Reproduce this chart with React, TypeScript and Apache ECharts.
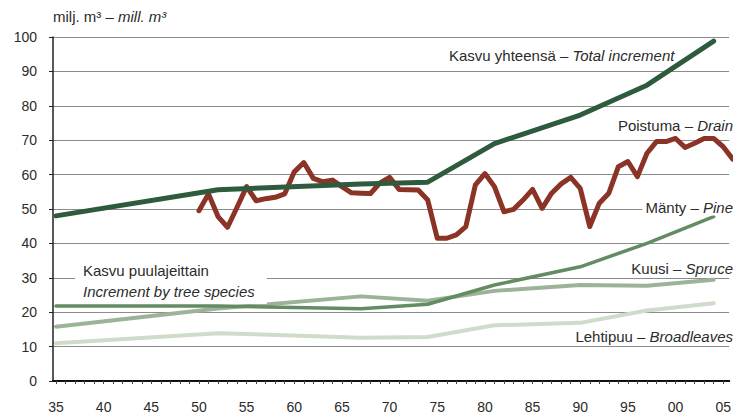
import React, { useEffect, useRef } from "react";
import * as echarts from "echarts";

// ---- data ----
const xTickLabels = [1935, 1940, 1945, 1950, 1955, 1960, 1965, 1970, 1975, 1980, 1985, 1990, 1995, 2000, 2005];
const yTicks = [0, 10, 20, 30, 40, 50, 60, 70, 80, 90, 100];

const drainYears = [
  1950, 1951, 1952, 1953, 1954, 1955, 1956, 1957, 1958, 1959,
  1960, 1961, 1962, 1963, 1964, 1965, 1966, 1967, 1968, 1969,
  1970, 1971, 1972, 1973, 1974, 1975, 1976, 1977, 1978, 1979,
  1980, 1981, 1982, 1983, 1984, 1985, 1986, 1987, 1988, 1989,
  1990, 1991, 1992, 1993, 1994, 1995, 1996, 1997, 1998, 1999,
  2000, 2001, 2002, 2003, 2004, 2005, 2006,
];
const drainValues = [
  49.5, 54.4, 47.8, 44.7, 50.5, 56.5, 52.4, 53.0, 53.4, 54.4,
  60.8, 63.5, 58.9, 57.9, 58.4, 56.5, 54.7, 54.6, 54.5, 57.6,
  59.2, 55.7, 55.6, 55.5, 52.6, 41.5, 41.5, 42.5, 44.9, 57.0,
  60.3, 56.5, 49.2, 49.9, 52.6, 55.7, 50.2, 54.6, 57.3, 59.2,
  56.0, 44.9, 51.7, 54.6, 62.3, 63.8, 59.4, 66.2, 69.6, 69.6,
  70.5, 67.9, 69.1, 70.5, 70.5, 68.1, 64.5,
];

const inventoryYears = [1935, 1952, 1967, 1974, 1981, 1990, 1997, 2004];
const totalIncrement = [48.0, 55.6, 57.3, 57.8, 69.0, 77.3, 86.0, 98.8];
const pineIncrement = [21.8, 21.8, 21.0, 22.3, 27.9, 33.2, 40.0, 47.8];
const spruceIncrement = [15.8, 21.1, 24.6, 23.3, 26.2, 27.9, 27.7, 29.4];
const broadleafIncrement = [11.0, 13.9, 12.6, 12.8, 16.2, 16.9, 20.5, 22.6];

const minorTickYears: number[] = [];
for (let y = 1935; y <= 2005; y++) minorTickYears.push(y);

const pair = (xs: number[], ys: number[]) => xs.map((x, i) => [x, ys[i]]);

const FONT = "'Liberation Sans', Arial, Helvetica, sans-serif";
const NARROW = "'Liberation Sans Narrow', 'Liberation Sans', Arial, sans-serif";
const TXT = "#2b2b2b";
const FS = 15;

const rich = {
  n: { fontSize: FS, fontFamily: FONT, fill: TXT },
  i: { fontSize: FS, fontFamily: FONT, fill: TXT, fontStyle: "italic" },
};

export default function App() {
  const ref = useRef<HTMLDivElement>(null);
  useEffect(() => {
    if (!ref.current) return;
    const chart = echarts.init(ref.current, null, { renderer: "svg" });
    const lineSeries = (name: string, data: number[][], color: string, width: number, z: number) => ({
      name,
      type: "line",
      data,
      showSymbol: false,
      symbol: "none",
      z,
      lineStyle: { color, width, cap: "round", join: "round" },
    });
    chart.setOption({
      animation: false,
      backgroundColor: "#ffffff",
      grid: { left: 53, right: 0, top: 37, bottom: 37, containLabel: false },
      xAxis: [
        {
          type: "value",
          min: 1934.6875,
          max: 2005.625,
          axisLine: { show: true, onZero: false, lineStyle: { color: "#111", width: 2 } },
          axisTick: { show: true, customValues: minorTickYears, length: 3, lineStyle: { color: "#444", width: 1 } },
          axisLabel: {
            show: true,
            customValues: xTickLabels,
            formatter: (v: number) => String(v % 100).padStart(2, "0"),
            margin: 19,
            fontSize: 14,
            fontFamily: NARROW,
            color: TXT,
          },
          splitLine: { show: false },
        },
        {
          type: "value",
          position: "top",
          min: 1934.6875,
          max: 2005.625,
          axisLine: { show: true, lineStyle: { color: "#111", width: 2 } },
          axisTick: { show: false },
          axisLabel: { show: false },
          splitLine: { show: false },
        },
      ],
      yAxis: {
        type: "value",
        min: 0,
        max: 100,
        interval: 10,
        axisLine: { show: true, lineStyle: { color: "#222", width: 1.5 } },
        axisTick: { show: true, length: 4, lineStyle: { color: "#222" } },
        axisLabel: {
          margin: 16,
          fontSize: 14,
          fontFamily: NARROW,
          color: TXT,
          customValues: yTicks,
        },
        splitLine: { show: true, lineStyle: { color: "#8c8c8c", width: 1 } },
      },
      series: [
        lineSeries("Lehtipuu", pair(inventoryYears, broadleafIncrement), "#cfdcc9", 4, 2),
        lineSeries("Kuusi", pair(inventoryYears, spruceIncrement), "#9cb399", 4, 3),
        lineSeries("Mänty", pair(inventoryYears, pineIncrement), "#648c63", 3.5, 4),
        lineSeries("Poistuma", pair(drainYears, drainValues), "#8a3326", 5, 5),
        lineSeries("Kasvu yhteensä", pair(inventoryYears, totalIncrement), "#2e5a3e", 5, 6),
      ],
      graphic: [
        {
          type: "text",
          x: 53,
          y: 16,
          z: 100,
          style: {
            text: "{n|milj. m³ – }{i|mill. m³}",
            verticalAlign: "middle",
            rich,
          },
        },
        {
          type: "text",
          x: 449,
          y: 55,
          z: 100,
          style: { text: "{n|Kasvu yhteensä – }{i|Total increment}", verticalAlign: "middle", rich },
        },
        {
          type: "text",
          x: 733,
          y: 125,
          z: 100,
          style: { text: "{n|Poistuma – }{i|Drain}", align: "right", verticalAlign: "middle", rich },
        },
        {
          type: "text",
          x: 733,
          y: 207,
          z: 100,
          style: {
            text: "{n|Mänty – }{i|Pine}",
            align: "right",
            verticalAlign: "middle",
            backgroundColor: "#ffffff",
            padding: [1, 0, 1, 3],
            rich,
          },
        },
        {
          type: "text",
          x: 733,
          y: 268,
          z: 100,
          style: {
            text: "{n|Kuusi – }{i|Spruce}",
            align: "right",
            verticalAlign: "middle",
            backgroundColor: "#ffffff",
            padding: [1, 0, 1, 3],
            rich,
          },
        },
        {
          type: "text",
          x: 733,
          y: 336,
          z: 100,
          style: { text: "{n|Lehtipuu – }{i|Broadleaves}", align: "right", verticalAlign: "middle", rich },
        },
        {
          type: "text",
          x: 75,
          y: 259,
          z: 100,
          style: {
            text: "{n|Kasvu puulajeittain}\n{i|Increment by tree species}",
            backgroundColor: "#ffffff",
            padding: [1, 12, 2, 8],
            rich: {
              n: { fontSize: FS, fontFamily: FONT, fill: TXT, lineHeight: 21 },
              i: { fontSize: FS, fontFamily: FONT, fill: TXT, fontStyle: "italic", lineHeight: 21 },
            },
          },
        },
      ],
    });
    return () => chart.dispose();
  }, []);
  return <div ref={ref} style={{ width: 734, height: 418, position: "absolute", left: 0, top: 0 }} />;
}
